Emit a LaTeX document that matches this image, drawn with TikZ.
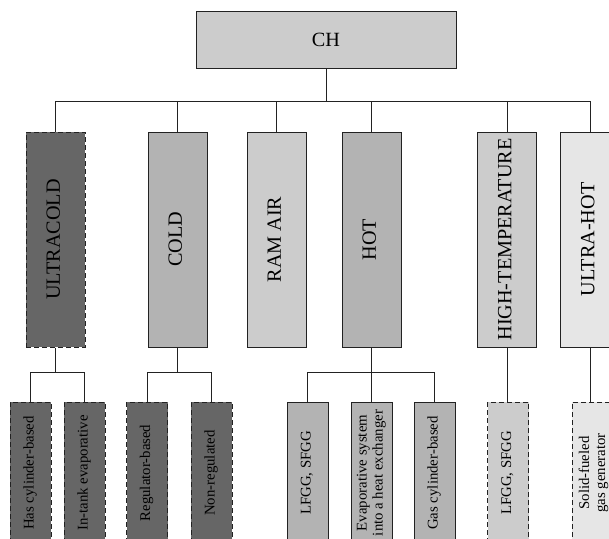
\documentclass[tikz,border=0pt]{standalone}
\usepackage{fontspec}
\setmainfont{Liberation Serif}
\newcommand{\Lbig}{\fontsize{20.2}{22}\selectfont}
\newcommand{\Lsmall}{\fontsize{14.8}{16}\selectfont}
\newcommand{\vt}[1]{\rotatebox{90}{\begin{tabular}{@{}c@{}}#1\end{tabular}}}
\definecolor{gA}{HTML}{666666}
\definecolor{gB}{HTML}{B3B3B3}
\definecolor{gC}{HTML}{CCCCCC}
\definecolor{gD}{HTML}{E6E6E6}
\definecolor{ln}{HTML}{222222}
\tikzset{
  box/.style={draw=ln, line width=1pt, inner sep=0pt, anchor=center},
  rootbox/.style={box, minimum width=260pt, minimum height=57pt, font=\Lbig},
  lvlone/.style={box, minimum width=59pt, minimum height=215pt, font=\Lbig},
  lvltwo/.style={box, minimum width=41pt, minimum height=142pt, font=\Lsmall},
  dsh/.style={dash pattern=on 5pt off 3pt},
  wire/.style={draw=ln, line width=1pt}
}
\begin{document}
\begin{tikzpicture}[x=1pt,y=-1pt]
\clip (0,0) rectangle (609,538);
\fill[white] (0,0) rectangle (609,538);
% root
\node[rootbox, fill=gC] (ch) at (326,39.5) {CH};
% level one
\node[lvlone, fill=gA, dsh] (uc)   at (55.5,239.5)  {\vt{ULTRACOLD}};
\node[lvlone, fill=gB]      (cold) at (177.5,239.5) {\vt{COLD}};
\node[lvlone, fill=gC]      (ram)  at (276.5,239.5) {\vt{RAM AIR}};
\node[lvlone, fill=gB]      (hot)  at (371.5,239.5) {\vt{HOT}};
\node[lvlone, fill=gC]      (ht)   at (507,239.5)   {\vt{HIGH-TEMPERATURE}};
\node[lvlone, fill=gD]      (uh)   at (590,239.5)   {\vt{ULTRA-HOT}};
% level two
\node[lvltwo, fill=gA, dsh] (a1) at (30.5,473)  {\vt{Has cylinder-based}};
\node[lvltwo, fill=gA, dsh] (a2) at (84.5,473)  {\vt{In-tank evaporative}};
\node[lvltwo, fill=gA, dsh] (b1) at (147,473)   {\vt{Regulator-based}};
\node[lvltwo, fill=gA, dsh] (b2) at (211.5,473) {\vt{Non-regulated}};
\node[lvltwo, fill=gB]      (c1) at (307.5,473) {\vt{LFGG, SFGG}};
\node[lvltwo, fill=gB]      (c2) at (371.5,473) {\vt{Evaporative system\\into a heat exchanger}};
\node[lvltwo, fill=gB]      (c3) at (434.5,473) {\vt{Gas cylinder-based}};
\node[lvltwo, fill=gC, dsh] (d1) at (508,473)   {\vt{LFGG, SFGG}};
\node[lvltwo, fill=gD, dsh, minimum width=44pt] (e1) at (594,473) {\vt{Solid-fueled\\gas generator}};
% connectors root
\path (ch.south) ++(0,33) coordinate (chb);
\draw[wire] (ch.south) -- (chb);
\foreach \n in {uc,cold,ram,hot,ht,uh} \draw[wire] (chb) -| (\n.north);
% ultracold
\path (uc.south) ++(0,25) coordinate (ucb);
\draw[wire] (uc.south) -- (ucb);
\foreach \n in {a1,a2} \draw[wire] (ucb) -| (\n.north);
% cold
\path (cold.south) ++(0,25) coordinate (cob);
\draw[wire] (cold.south) -- (cob);
\foreach \n in {b1,b2} \draw[wire] (cob) -| (\n.north);
% hot
\path (hot.south) ++(0,25) coordinate (hob);
\draw[wire] (hot.south) -- (hob);
\foreach \n in {c1,c2,c3} \draw[wire] (hob) -| (\n.north);
% high-temperature and ultra-hot
\draw[wire] (ht.south) -- (ht.south |- d1.north);
\draw[wire] (uh.south) -- (uh.south |- e1.north);
\end{tikzpicture}
\end{document}
